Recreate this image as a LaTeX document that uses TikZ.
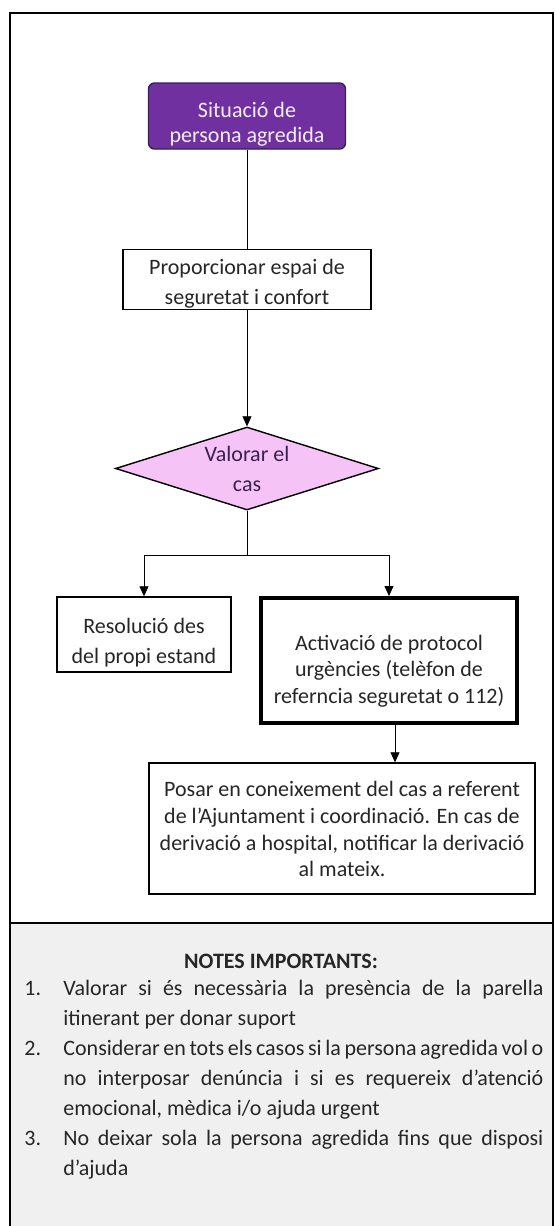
\documentclass[tikz,border=0pt]{standalone}
\usepackage{fontspec}
\setmainfont{Carlito}
\usetikzlibrary{arrows.meta,shapes.geometric}
\definecolor{lila}{HTML}{7030A0}
\definecolor{lilafosc}{HTML}{3A1F52}
\definecolor{rosa}{HTML}{F5C3F5}
\definecolor{gris}{HTML}{F0F0F0}
\definecolor{tinta}{HTML}{262626}
% text lines of a box, set a little lower than its centre
\newcommand{\linies}[2]{\raisebox{-#1}[\height][\depth]{\begin{tabular}{@{}c@{}}#2\end{tabular}}}
\begin{document}
\begin{tikzpicture}[x=0.5pt,y=-0.5pt,>={Triangle[length=5pt,width=4.5pt]},
		caixa/.style={draw,line width=0.7pt,align=center,inner sep=0pt,text=tinta,font=\fontsize{11}{15}\selectfont},
		caixagran/.style={caixa,line width=2pt,font=\fontsize{11}{13.3}\selectfont}]
				\fill[white] (0,0) rectangle (556,1226);
				\useasboundingbox (0,0) rectangle (556,1226);
				\fill[gris] (10,923) rectangle (553,1226);
				\draw[line width=0.8pt] (10,1226)--(10,13)--(553,13)--(553,1226);
				\draw[line width=0.8pt] (10,923)--(553,923);
				\node[caixa,fill=lila,draw=lilafosc,text={lila!8},rounded corners=3pt,minimum width=98.5pt,minimum height=33pt,font=\fontsize{11}{12.5}\selectfont] (sit) at (247,116) {\linies{4.5pt}{Situació de\\persona agredida}};
				\node[caixa,minimum width=124pt,minimum height=29.5pt] (prop) at (247,279.5) {\linies{2.2pt}{Proporcionar espai de\\seguretat i confort}};
				\node[caixa,shape=diamond,aspect=3.17,fill=rosa,text=lilafosc,minimum width=131.5pt,minimum height=41.5pt] (val) at (247,468.5) {Valorar el\\cas};
				\node[caixa,minimum width=87pt,minimum height=37.5pt] (res) at (144,634.5) {\linies{4pt}{Resolució des\\del propi estand}};
				\node[caixagran,minimum width=128pt,minimum height=62.5pt] (act) at (389,660.5) {\linies{5.5pt}{Activació de protocol\\urgències (telèfon de\\referncia seguretat o 112)}};
				\node[caixa,minimum width=193pt,minimum height=65.5pt,font=\fontsize{11}{13.3}\selectfont] (notif) at (342,828.5) {\linies{1.5pt}{Posar en coneixement del cas a referent\\de l’Ajuntament i coordinació. En cas de\\derivació a hospital, notificar la derivació\\al mateix.}};
				\draw (sit)--(prop);
				\draw[->] (prop)--(val);
				\draw (val.south)--++(0,45) coordinate (bif);
				\draw[->] (bif)-|(res.north);
				\draw[->] (bif)-|(act.north);
				\draw[->] ([xshift=3pt]act.south)--([xshift=3pt]act.south|-notif.north);
				\node[text=tinta,font=\fontsize{11}{15}\selectfont\bfseries] (titol) at (281,961) {NOTES IMPORTANTS:};
				\node[anchor=north west,inner sep=0pt,text width=259.5pt,align=justify,text=tinta,font=\fontsize{11}{15}\selectfont] (notes) at (24,980) {%
					\hangindent=19.5pt\hangafter=1\makebox[19.5pt][l]{1.}Valorar si és necessària la presència de la parella\linebreak itinerant per donar suport\par
					\hangindent=19.5pt\hangafter=1\makebox[19.5pt][l]{2.}Considerar en tots els casos si la persona agredida vol o\linebreak no interposar denúncia i si es requereix d’atenció\linebreak emocional, mèdica i/o ajuda urgent\par
					\hangindent=19.5pt\hangafter=1\makebox[19.5pt][l]{3.}No deixar sola la persona agredida fins que disposi\linebreak d’ajuda\par};
		\end{tikzpicture}
\end{document}
